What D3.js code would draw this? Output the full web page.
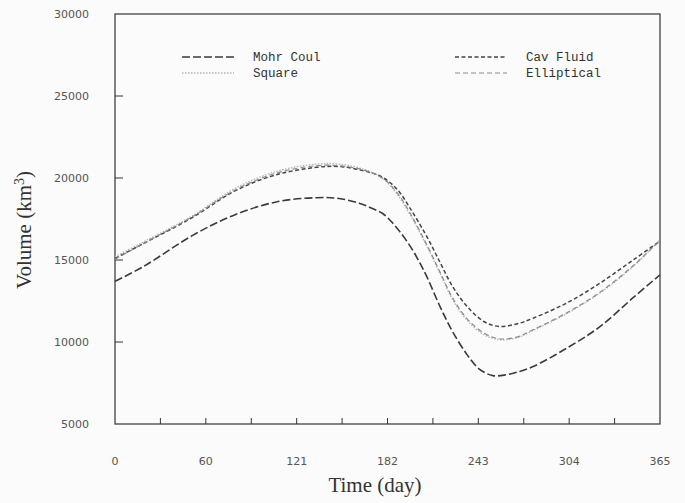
<!DOCTYPE html>
<html lang="en">
<head>
	<meta charset="utf-8">
	<script src="https://d3js.org/d3.v7.min.js"></script>
	<style type="text/css">
		body { margin: 0; background: #fafbfa; }
		.tick-label { font: 11px "DejaVu Sans", sans-serif; fill: #555; }
		.axis-title { font: 21px "Liberation Serif", "Times New Roman", serif; fill: #333; }
		.legend-text { font: 12.5px "Liberation Mono", "Courier New", monospace; fill: #333; }
	</style>
</head>
<body>
	<script type="text/javascript">

	var mohrDays   = [0, 19, 52, 80, 108, 135, 150, 164, 172, 179, 185, 191, 198, 204, 209, 218, 226, 236, 244, 253, 262, 269, 280, 303, 325, 347, 365];
	var mohrVals   = [13700, 14600, 16500, 17750, 18540, 18800, 18750, 18450, 18150, 17850, 17350, 16700, 15800, 14850, 13950, 12100, 10650, 9200, 8350, 7950, 8000, 8150, 8500, 9650, 10950, 12700, 14100];

	var upperDays  = [0, 19, 52, 80, 108, 135, 150, 166, 179, 189, 198, 209, 218, 226, 236, 247, 257, 269, 280, 303, 325, 347, 365];
	var cavVals    = [15100, 16000, 17600, 19200, 20200, 20650, 20700, 20450, 20050, 19300, 18100, 16400, 14800, 13400, 12150, 11250, 10950, 11100, 11450, 12400, 13600, 15000, 16150];
	var squareVals = [15200, 16100, 17700, 19350, 20400, 20850, 20850, 20550, 20000, 19000, 17700, 15800, 14100, 12600, 11300, 10450, 10150, 10250, 10700, 11750, 13000, 14600, 16250];
	var ellipVals  = [15050, 16000, 17650, 19250, 20300, 20750, 20750, 20500, 20000, 19100, 17800, 15900, 14200, 12700, 11400, 10550, 10200, 10300, 10750, 11800, 13050, 14650, 16200];

	var xLabels = ["0", "60", "121", "182", "243", "304", "365"];
	var yTicks  = [5000, 10000, 15000, 20000, 25000, 30000];

	var width = 685, height = 503;
	var plotL = 115, plotR = 660, plotT = 14, plotB = 424;

	var svg = d3.select("body").append("svg")
		.attr("width", width)
		.attr("height", height);

	var x = d3.scaleLinear().domain([0, 365]).range([plotL, plotR]);
	var y = d3.scaleLinear().domain([5000, 30000]).range([plotB, plotT]);

	// frame
	svg.append("rect")
		.attr("x", plotL).attr("y", plotT)
		.attr("width", plotR - plotL).attr("height", plotB - plotT)
		.style("fill", "none")
		.style("stroke", "#333")
		.style("stroke-width", 1.2);

	// monthly ticks on bottom, pointing in
	var months = d3.range(1, 12).map(function(m) { return m * 365 / 12; });
	svg.selectAll(".xt").data(months).enter().append("line")
		.attr("x1", function(d) { return x(d); }).attr("x2", function(d) { return x(d); })
		.attr("y1", plotB).attr("y2", plotB - 6)
		.style("stroke", "#333");

	svg.selectAll(".xl").data(xLabels).enter().append("text")
		.attr("class", "tick-label")
		.attr("x", function(d, i) { return x(i * 365 / 6); })
		.attr("y", 465)
		.attr("text-anchor", "middle")
		.text(function(d) { return d; });

	// y ticks (inner ones only get a mark)
	svg.selectAll(".yt").data(yTicks.slice(1, -1)).enter().append("line")
		.attr("x1", plotL).attr("x2", plotL + 8)
		.attr("y1", function(d) { return y(d); }).attr("y2", function(d) { return y(d); })
		.style("stroke", "#333");

	svg.selectAll(".yl").data(yTicks).enter().append("text")
		.attr("class", "tick-label")
		.attr("x", 89)
		.attr("y", function(d) { return y(d) + 4; })
		.attr("text-anchor", "end")
		.text(function(d) { return d; });

	// axis titles
	svg.append("text")
		.attr("class", "axis-title")
		.attr("x", 375).attr("y", 492)
		.attr("text-anchor", "middle")
		.text("Time (day)");

	var yt = svg.append("text")
		.attr("class", "axis-title")
		.attr("transform", "translate(31,230) rotate(-90)")
		.attr("text-anchor", "middle");
	yt.append("tspan").text("Volume (km");
	yt.append("tspan").attr("dy", -7).style("font-size", "14px").text("3");
	yt.append("tspan").attr("dy", 7).text(")");

	var series = [
		{ name: "Mohr Coul",  days: mohrDays,  vals: mohrVals,   color: "#3a3a3a", dash: "8,3",     w: 1.6 },
		{ name: "Square",     days: upperDays, vals: squareVals, color: "#b4b4b4", dash: "1.5,1.5", w: 1.3 },
		{ name: "Cav Fluid",  days: upperDays, vals: cavVals,    color: "#444",    dash: "4,2.5",   w: 1.5 },
		{ name: "Elliptical", days: upperDays, vals: ellipVals,  color: "#8a8a8a", dash: "5,3",     w: 1.2 }
	];

	var line = d3.line()
		.x(function(d) { return x(d[0]); })
		.y(function(d) { return y(d[1]); })
		.curve(d3.curveCatmullRom);

	series.forEach(function(s) {
		svg.append("path")
			.datum(d3.zip(s.days, s.vals))
			.attr("d", line)
			.style("fill", "none")
			.style("stroke", s.color)
			.style("stroke-width", s.w)
			.style("stroke-dasharray", s.dash);
	});

	// legend, two columns
	var legendPos = [[182, 57], [182, 73], [455, 57], [455, 73]];
	series.forEach(function(s, i) {
		var p = legendPos[i];
		svg.append("line")
			.attr("x1", p[0]).attr("x2", p[0] + 52)
			.attr("y1", p[1]).attr("y2", p[1])
			.style("stroke", s.color)
			.style("stroke-width", s.w)
			.style("stroke-dasharray", s.dash);
		svg.append("text")
			.attr("class", "legend-text")
			.attr("x", p[0] + 71).attr("y", p[1] + 4)
			.text(s.name);
	});
	</script>
</body>
</html>
